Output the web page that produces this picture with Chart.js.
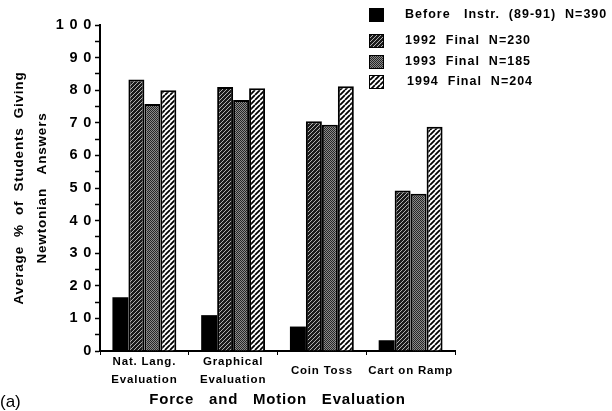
<!DOCTYPE html>
<html>
<head>
<meta charset="utf-8">
<script src="https://cdn.jsdelivr.net/npm/chart.js@4"></script>
<style>
  html, body { margin: 0; padding: 0; background: #fff; }
  #wrap { width: 612px; height: 411px; position: relative; }
</style>
</head>
<body>
<div id="wrap"><canvas id="chart"></canvas></div>
<script>
const categories = [["Nat. Lang.", "Evaluation"], ["Graphical", "Evaluation"], "Coin Toss", "Cart on Ramp"];
const seriesNames = ["Before   Instr.  (89-91)  N=390", "1992  Final  N=230", "1993  Final  N=185", "1994  Final  N=204"];
const before = [16.5, 11, 7.5, 3.3];
const final1992 = [83.3, 81, 70.5, 49.2];
const final1993 = [75.8, 77, 69.4, 48.2];
const final1994 = [80, 80.6, 81.2, 68.8];
const yTicks = [0, 10, 20, 30, 40, 50, 60, 70, 80, 90, 100];

const FONT = "'Liberation Sans', Arial, sans-serif";

// fill patterns for the bars
function makePattern(kind) {
  const c = document.createElement("canvas");
  const s = kind === "stipple" ? 2 : (kind === "dark" ? 4 : 5);
  c.width = s; c.height = s;
  const g = c.getContext("2d");
  if (kind === "stipple") {
    g.fillStyle = "#8a8a8a"; g.fillRect(0, 0, 2, 2);
    g.fillStyle = "#262626"; g.fillRect(0, 0, 1, 1); g.fillRect(1, 1, 1, 1);
  } else {
    g.fillStyle = kind === "dark" ? "#1a1a1a" : "#fff";
    g.fillRect(0, 0, s, s);
    g.strokeStyle = kind === "dark" ? "#b0b0b0" : "#000";
    g.lineWidth = kind === "dark" ? 1 : 1.8;
    g.beginPath();
    for (let k = -s; k <= s; k += s) { g.moveTo(k, s); g.lineTo(k + s, 0); }
    g.stroke();
  }
  return g.createPattern(c, "repeat");
}
const fills = ["#000", makePattern("dark"), makePattern("stipple"), makePattern("light")];

const spacing = {
  id: "spacing",
  beforeLayout(chart) { chart.ctx.letterSpacing = "0.8px"; },
  beforeDraw(chart) { chart.ctx.letterSpacing = "0.8px"; }
};

const extras = {
  id: "extras",
  afterDraw(chart) {
    const ctx = chart.ctx;
    ctx.save();
    // legend
    const rows = [15, 41, 62, 82];
    ctx.letterSpacing = "1px";
    ctx.font = "bold 12.5px " + FONT;
    ctx.textBaseline = "middle";
    rows.forEach((y, i) => {
      ctx.fillStyle = fills[i];
      ctx.fillRect(369, y - 7, 15, 14);
      ctx.strokeStyle = "#000"; ctx.lineWidth = 1;
      ctx.strokeRect(369.5, y - 6.5, 14, 13);
      ctx.fillStyle = "#000";
      ctx.fillText(seriesNames[i], i === 3 ? 407 : 405, y);
    });
    // panel letter
    ctx.letterSpacing = "0px";
    ctx.font = "17px " + FONT;
    ctx.textBaseline = "alphabetic";
    ctx.fillText("(a)", 0, 407);
    ctx.restore();
  }
};

const datasets = [before, final1992, final1993, final1994].map((d, i) => ({
  label: seriesNames[i],
  data: d,
  backgroundColor: fills[i],
  borderColor: "#000",
  borderWidth: i === 0 ? 0 : 2,
  borderSkipped: "bottom"
}));

new Chart(document.getElementById("chart"), {
  type: "bar",
  data: { labels: categories, datasets: datasets },
  options: {
    responsive: true,
    maintainAspectRatio: false,
    animation: false,
    categoryPercentage: 0.72,
    barPercentage: 1.0,
    layout: { padding: { left: 0, top: 25, right: 157, bottom: 0 } },
    plugins: { legend: { display: false }, tooltip: { enabled: false } },
    scales: {
      x: {
        afterFit(scale) { scale.height = 60; },
        border: { color: "#000", width: 2 },
        grid: { display: true, drawOnChartArea: false, offset: true, tickLength: 4, color: "#000", tickColor: "#000" },
        ticks: {
          color: "#000", font: { family: FONT, size: 11.5, weight: "bold", lineHeight: 1.55 },
          padding: 7, maxRotation: 0, autoSkip: false, crossAlign: "center"
        },
        title: {
          display: true, text: "Force   and   Motion   Evaluation", color: "#000",
          font: { family: FONT, size: 15, weight: "bold" }, padding: { top: 0, bottom: 2 }
        }
      },
      y: {
        min: 0, max: 100,
        afterFit(scale) { scale.width = 100; },
        afterBuildTicks(scale) {
          const t = [];
          for (let v = 0; v <= 100; v += 5) t.push({ value: v });
          scale.ticks = t;
        },
        border: { color: "#000", width: 2 },
        grid: { display: true, drawOnChartArea: false, tickLength: 5, color: "#000", tickColor: "#000", tickWidth: 1.5 },
        ticks: {
          color: "#000", font: { family: FONT, size: 14.5, weight: "bold" }, padding: 3, autoSkip: false,
          callback: v => yTicks.includes(v) ? String(v).split("").join(" ") : ""
        },
        title: {
          display: true, text: ["Average  %  of  Students  Giving", "Newtonian   Answers"], color: "#000",
          font: { family: FONT, size: 13.5, weight: "bold", lineHeight: 1.75 }, padding: { top: 7, bottom: 0 }
        }
      }
    }
  },
  plugins: [spacing, extras]
});
</script>
</body>
</html>
